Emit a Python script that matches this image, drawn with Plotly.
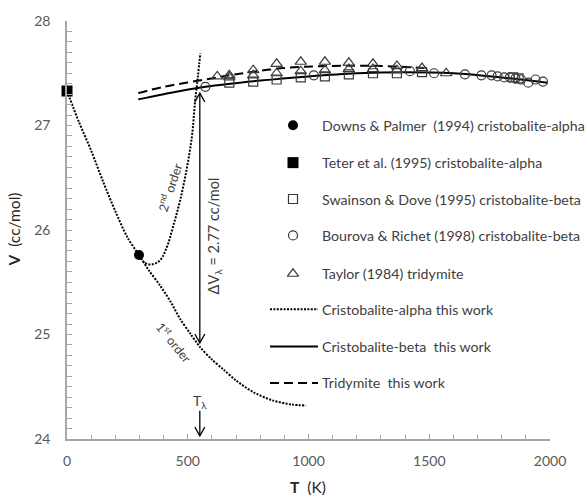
import plotly.graph_objects as go

# ---- data -------------------------------------------------------------
downs_T = [298]
downs_V = [25.76]

teter_T = [0]
teter_V = [27.33]

swainson_T = [672, 771, 868, 968, 1068, 1167, 1267, 1366, 1470, 1848, 1870]
swainson_V = [27.41, 27.42, 27.44, 27.46, 27.47, 27.49, 27.50, 27.50, 27.51, 27.46, 27.45]

bourova_T = [573, 1022, 1420, 1520, 1648, 1716, 1758, 1783, 1810, 1834, 1857, 1880, 1910, 1940, 1971]
bourova_V = [27.37, 27.48, 27.52, 27.50, 27.49, 27.48, 27.48, 27.47, 27.46, 27.46, 27.45, 27.44, 27.41, 27.44, 27.42]

taylor_T = [622, 672, 771, 868, 968, 1068, 1167, 1267, 1366, 1470, 1570,
            672, 771, 868, 968, 1068, 1167, 1267, 1366]
taylor_V = [27.47, 27.48, 27.53, 27.59, 27.61, 27.61, 27.60, 27.59, 27.57, 27.55, 27.50,
            27.46, 27.48, 27.50, 27.52, 27.53, 27.54, 27.54, 27.53]

# cristobalite-alpha model, first-order branch
alpha1_T = [0, 50, 100, 150, 200, 250, 298, 340, 385, 430, 468, 510, 551,
            600, 650, 700, 770, 850, 930, 990]
alpha1_V = [27.33, 27.03, 26.76, 26.46, 26.18, 25.93, 25.76, 25.61, 25.47, 25.31,
            25.15, 25.01, 24.88, 24.76, 24.66, 24.56, 24.45, 24.37, 24.33, 24.32]

# cristobalite-alpha model, second-order branch
alpha2_T = [298, 320, 350, 385, 414, 439, 468, 497, 518, 530, 542, 552]
alpha2_V = [25.76, 25.69, 25.67, 25.71, 25.84, 26.03, 26.28, 26.60, 26.91, 27.22, 27.47, 27.69]

beta_T = [295, 400, 573, 800, 1000, 1200, 1400, 1600, 1800, 1990]
beta_V = [27.25, 27.30, 27.37, 27.43, 27.47, 27.50, 27.51, 27.50, 27.46, 27.41]

trid_T = [295, 400, 573, 700, 900, 1100, 1300, 1480]
trid_V = [27.31, 27.37, 27.44, 27.49, 27.55, 27.57, 27.57, 27.55]

# transition markers
T_lambda = 550
dV_low, dV_high = 24.92, 27.31
Tl_arrow_top, Tl_arrow_bot = 24.27, 24.03

x_ticks = [0, 500, 1000, 1500, 2000]
y_ticks = [24, 25, 26, 27, 28]

# ---- layout geometry ----------------------------------------------------
W, H = 585, 503
ML, MR, MT, MB = 67, 35, 14, 64
X0, X1 = ML, W - MR
Y0, Y1 = MT, H - MB
XR = [0, 2000]
YR = [24, 28]
px_per_T = (X1 - X0) / (XR[1] - XR[0])
px_per_V = (Y1 - Y0) / (YR[1] - YR[0])


def paper_x(px):
    return (px - X0) / (X1 - X0)


def paper_y(py):
    return (Y1 - py) / (Y1 - Y0)


FONT = "Lato, 'Open Sans', sans-serif"
TXT = "#404040"
AX = "#a6a6a6"
MK = "#3a3a3a"

fig = go.Figure()

line_dot = dict(color="black", width=2, dash="2px,1.4px")
line_solid = dict(color="black", width=2)
line_dash = dict(color="black", width=2, dash="9px,5px")

fig.add_trace(go.Scatter(x=alpha1_T, y=alpha1_V, mode="lines", line=dict(shape="spline", smoothing=0.8, **line_dot)))
fig.add_trace(go.Scatter(x=alpha2_T, y=alpha2_V, mode="lines", line=dict(shape="spline", **line_dot)))
fig.add_trace(go.Scatter(x=beta_T, y=beta_V, mode="lines", line=dict(shape="spline", **line_solid)))
fig.add_trace(go.Scatter(x=trid_T, y=trid_V, mode="lines", line=dict(shape="spline", **line_dash)))

open_marker = dict(color=MK, line=dict(color=MK, width=1.2))
fig.add_trace(go.Scatter(x=swainson_T, y=swainson_V, mode="markers",
                         marker=dict(symbol="square-open", size=9, **open_marker)))
fig.add_trace(go.Scatter(x=taylor_T, y=taylor_V, mode="markers",
                         marker=dict(symbol="triangle-up-open", size=10, **open_marker)))
fig.add_trace(go.Scatter(x=bourova_T, y=bourova_V, mode="markers",
                         marker=dict(symbol="circle-open", size=9, **open_marker)))
fig.add_trace(go.Scatter(x=downs_T, y=downs_V, mode="markers",
                         marker=dict(symbol="circle", size=10, color="black")))
fig.add_trace(go.Scatter(x=teter_T, y=teter_V, mode="markers",
                         marker=dict(symbol="square", size=11, color="black"), cliponaxis=False))

# ---- legend (drawn on a pixel-scaled overlay axis) ---------------------
legend_rows = [
    ("Downs & Palmer\u00a0\u00a0(1994) cristobalite-alpha", "marker", dict(symbol="circle", size=10, color="black")),
    ("Teter et al. (1995) cristobalite-alpha", "marker", dict(symbol="square", size=11, color="black")),
    ("Swainson & Dove (1995) cristobalite-beta", "marker", dict(symbol="square-open", size=9, **open_marker)),
    ("Bourova & Richet (1998) cristobalite-beta", "marker", dict(symbol="circle-open", size=9, **open_marker)),
    ("Taylor (1984) tridymite", "marker", dict(symbol="triangle-up-open", size=10, **open_marker)),
    ("Cristobalite-alpha this work", "line", line_dot),
    ("Cristobalite-beta\u00a0\u00a0this work", "line", line_solid),
    ("Tridymite\u00a0\u00a0this work", "line", line_dash),
]
leg_y = [120, 158, 195, 232, 271, 307, 345, 382]
leg_key_x = 293
leg_line_x = [270, 318]
leg_text_x = 320

annotations = []
for (label, kind, style), yy in zip(legend_rows, leg_y):
    if kind == "marker":
        fig.add_trace(go.Scatter(x=[leg_key_x], y=[yy], xaxis="x2", yaxis="y2",
                                 mode="markers", marker=style))
    else:
        fig.add_trace(go.Scatter(x=leg_line_x, y=[yy, yy], xaxis="x2", yaxis="y2",
                                 mode="lines", line=style))
    annotations.append(dict(x=paper_x(leg_text_x), y=paper_y(yy), xref="paper", yref="paper",
                            text=label, showarrow=False, xanchor="left", yanchor="middle",
                            font=dict(family=FONT, size=14.2, color=TXT)))


def label(px, py, text, angle=0, size=13, color=TXT):
    return dict(x=paper_x(px), y=paper_y(py), xref="paper", yref="paper", text=text,
                textangle=angle, showarrow=False, xanchor="center", yanchor="middle",
                font=dict(family=FONT, size=size, color=color))


# ---- text labels -------------------------------------------------------
annotations += [
    label(169, 183, "2<sup>nd</sup> order", -72, 12.5),
    label(174, 340, "1<sup>st</sup> order", 51, 12.5),
    label(214, 233, "\u0394V<sub>\u03bb</sub> = 2.77 cc/mol", -90, 14.5),
    dict(x=T_lambda, y=24.36, xref="x", yref="y", text="T<sub>\u03bb</sub>",
         xanchor="center", yanchor="middle",
         showarrow=False, font=dict(family=FONT, size=14, color=TXT)),
    label(14, 226, "<b>V</b>\u00a0\u00a0(cc/mol)", -90, 15.5, "#262626"),
    label(308, 488, "<b>T</b>\u00a0\u00a0(K)", 0, 15.5, "#262626"),
]

# ---- arrows ------------------------------------------------------------
head_dx = 5 / px_per_T
head_dy = 9 / px_per_V


def chevron(x, y, up):
    wing = y - head_dy if up else y + head_dy
    return f"M {x - head_dx},{wing} L {x},{y} L {x + head_dx},{wing}"


arrow_style = dict(xref="x", yref="y", line=dict(color="black", width=1.3))
shapes = [
    dict(type="line", x0=T_lambda, x1=T_lambda, y0=dV_low, y1=dV_high, **arrow_style),
    dict(type="path", path=chevron(T_lambda, dV_high, True), **arrow_style),
    dict(type="path", path=chevron(T_lambda, dV_low, False), **arrow_style),
    dict(type="line", x0=T_lambda, x1=T_lambda, y0=Tl_arrow_bot, y1=Tl_arrow_top, **arrow_style),
    dict(type="path", path=chevron(T_lambda, Tl_arrow_bot, False), **arrow_style),
]

axis_common = dict(showgrid=False, zeroline=False, showline=True, linecolor=AX, linewidth=1.5,
                   ticks="inside", ticklen=5, tickcolor=AX, tickwidth=1.2,
                   tickfont=dict(family=FONT, size=14, color="#595959"))

fig.update_layout(
    width=W, height=H,
    margin=dict(l=ML, r=MR, t=MT, b=MB),
    paper_bgcolor="white", plot_bgcolor="white",
    showlegend=False,
    xaxis=dict(range=XR, tickvals=x_ticks, ticklabelstandoff=8,
               minor=dict(dtick=100, ticks="inside", ticklen=4, tickcolor=AX, tickwidth=1.2),
               **axis_common),
    yaxis=dict(range=YR, tickvals=y_ticks, ticklabelstandoff=12,
               minor=dict(dtick=0.1, ticks="inside", ticklen=5, tickcolor=AX, tickwidth=1.2),
               **axis_common),
    xaxis2=dict(range=[X0, X1], overlaying="x", visible=False, fixedrange=True),
    yaxis2=dict(range=[Y1, Y0], overlaying="y", visible=False, fixedrange=True),
    annotations=annotations,
    shapes=shapes,
)

fig.write_html("out.html")
